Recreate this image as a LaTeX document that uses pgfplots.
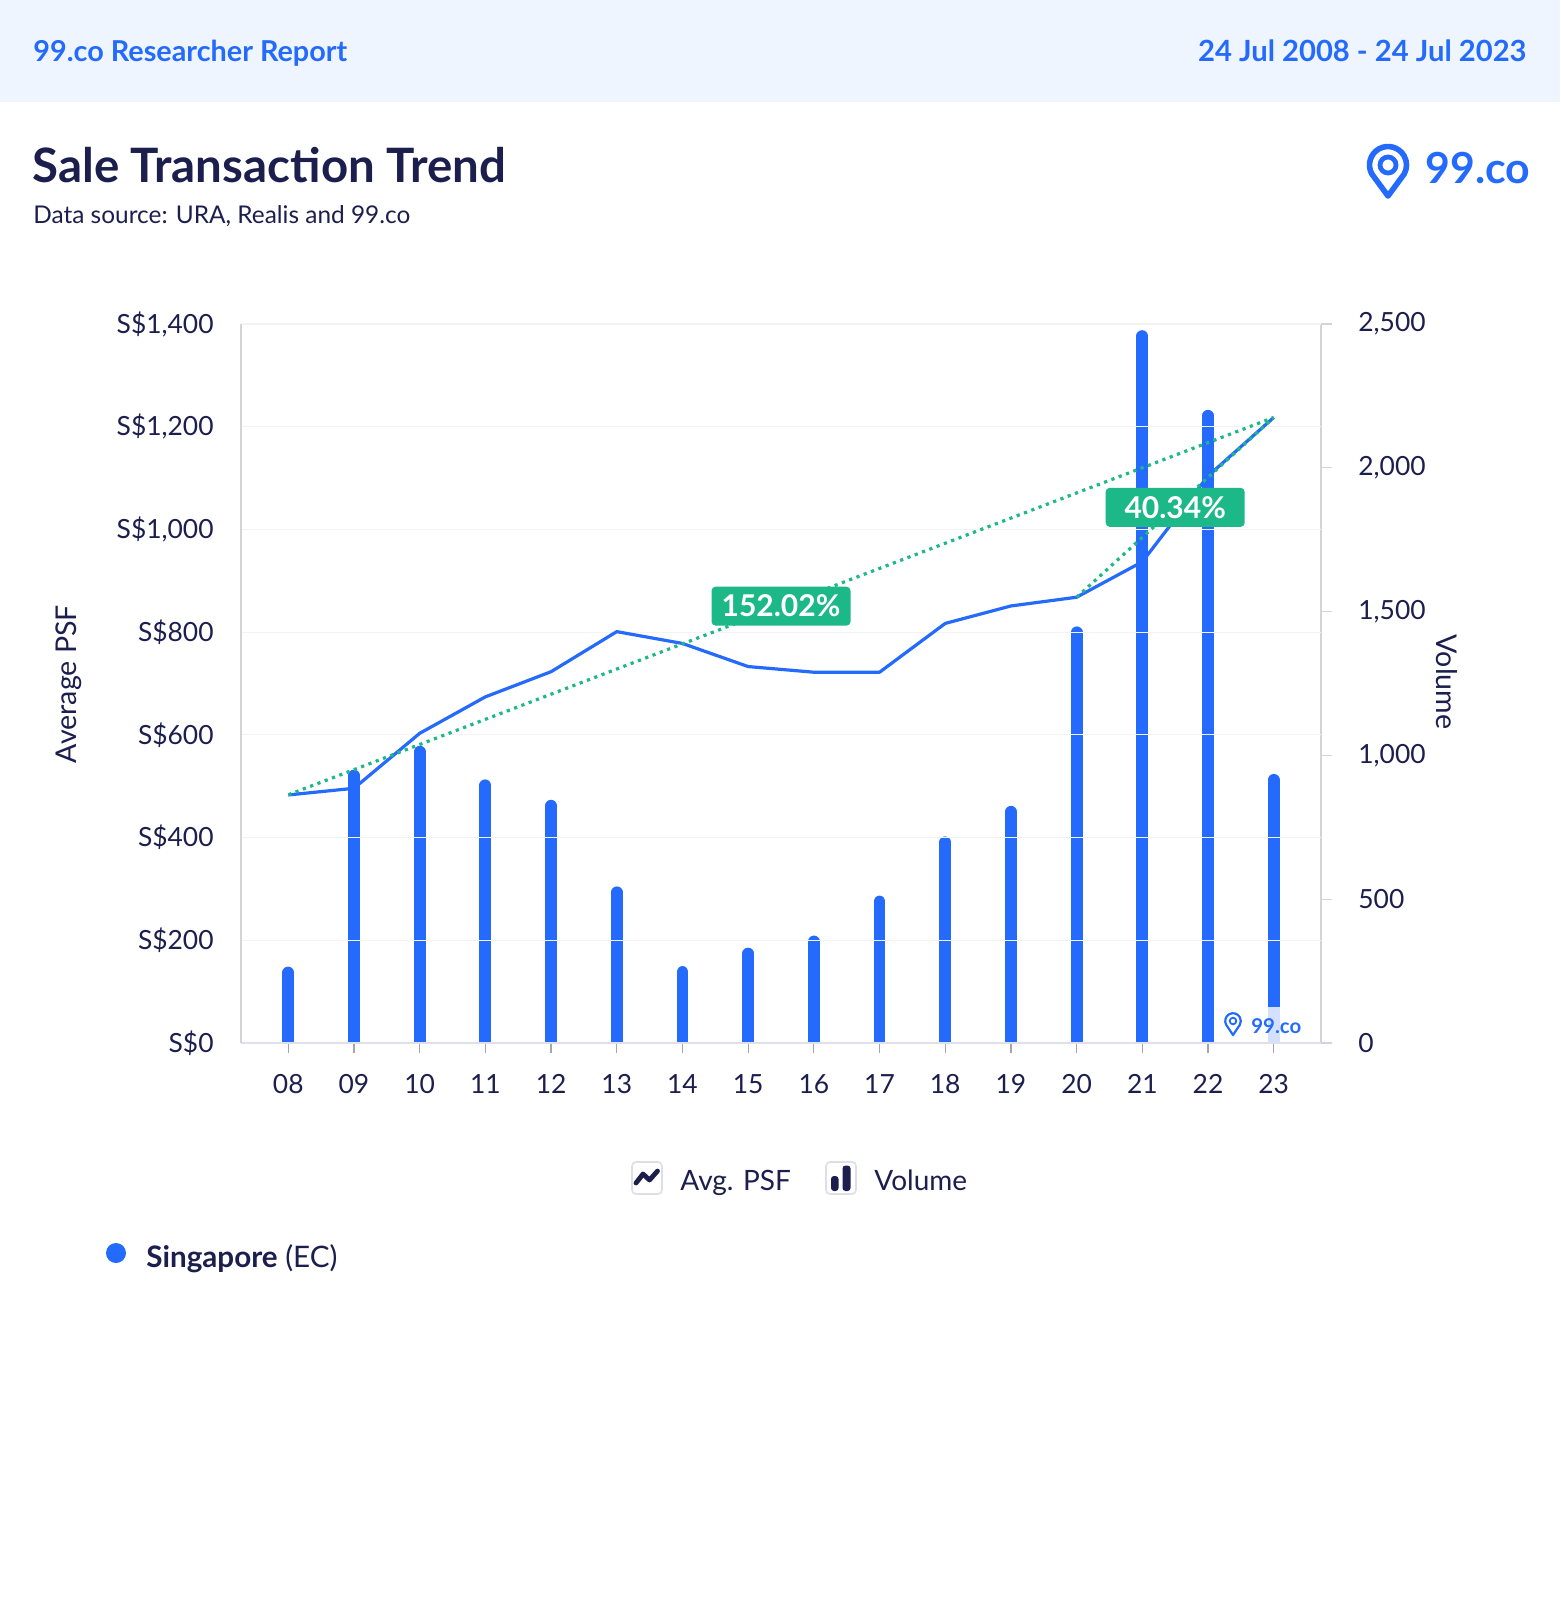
\documentclass[border=0pt]{standalone}
\usepackage{pgfplots}
\pgfplotsset{compat=1.18}
\usepackage{fontspec}
\setmainfont{Lato}
\definecolor{hdrbg}{HTML}{EEF5FF}
\definecolor{brand}{HTML}{246BFD}
\definecolor{navy}{HTML}{1C1F4E}
\definecolor{tgreen}{HTML}{1DB887}
\definecolor{gridc}{HTML}{F3F3F5}
\definecolor{axisc}{HTML}{D4D4D8}
\definecolor{xaxisc}{HTML}{E0E0EA}
\definecolor{iconbox}{HTML}{DEDEE6}
\newcommand{\tickfont}{\fontsize{13.2}{15}\selectfont}
\begin{document}
\begin{tikzpicture}[x=0.5pt,y=-0.5pt]
% background
\fill[white] (0,0) rectangle (1560,1600);
\fill[hdrbg] (0,0) rectangle (1560,102);
\node[anchor=base west, inner sep=0, text=brand, font=\fontsize{14.4}{16}\selectfont\bfseries] at (33,62) {99.co Researcher Report};
\node[anchor=base east, inner sep=0, text=brand, font=\fontsize{14.6}{16}\selectfont\bfseries] at (1527,62) {24 Jul 2008 - 24 Jul 2023};
\node[anchor=base west, inner sep=0, text=navy, font=\fontsize{23.7}{26}\selectfont\bfseries] at (32,183) {Sale Transaction Trend};
\node[anchor=base west, inner sep=0, text=navy, font=\fontsize{12.2}{14}\selectfont] at (33,223) {Data source: URA, Realis and 99.co};
% top-right logo
\begin{scope}[shift={(1388,165)}, x=0.5pt, y=0.5pt]
  \draw[brand, line width=2.8pt, line join=round] (0,-31) -- (209.1:18.5) arc[start angle=209.1, end angle=-29.1, radius=18.5] -- cycle;
  \draw[brand, line width=2.4pt] (0,0) circle (8);
\end{scope}
\node[anchor=base west, inner sep=0, text=brand, font=\fontsize{21.4}{24}\selectfont\bfseries] at (1425,184) {99.co};

% ---------- Volume axis (bars, right) ----------
\begin{axis}[
  at={(120.5pt,-521.5pt)}, anchor=south west,
  scale only axis, width=540pt, height=359.5pt,
  xmin=-0.72, xmax=15.72, ymin=0, ymax=2500,
  axis x line=none,
  axis y line*=right,
  y axis line style={axisc, line width=0.8pt, -},
  ytick={0,500,1000,1500,2000,2500},
  yticklabels={0,500,{1,000},{1,500},{2,000},{2,500}},
  tick align=outside, major tick length=5.5pt,
  ytick style={axisc, line width=0.6pt},
  yticklabel style={font=\tickfont, text=navy, anchor=west, inner sep=0pt},
  yticklabel shift=13pt,
]
\addplot[ycomb, brand, line width=5.9pt, line cap=round, y filter/.expression={y-20}] coordinates {
(0,265) (1,950) (2,1033) (3,916) (4,845) (5,544) (6,267) (7,331)
(8,373) (9,512) (10,718) (11,824) (12,1448) (13,2478) (14,2201) (15,935)
};
\end{axis}

% ---------- Avg PSF axis (line, left) ----------
\begin{axis}[
  at={(120.5pt,-521.5pt)}, anchor=south west,
  scale only axis, width=540pt, height=359.5pt,
  xmin=-0.72, xmax=15.72, ymin=0, ymax=1400,
  axis y line*=left, axis x line*=bottom,
  x axis line style={xaxisc, line width=1pt, -},
  y axis line style={axisc, line width=0.8pt, -},
  xtick={0,...,15},
  xticklabels={08,09,10,11,12,13,14,15,16,17,18,19,20,21,22,23},
  ytick={0,200,...,1400},
  yticklabels={S\$0,S\$200,S\$400,S\$600,S\$800,{S\$1,000},{S\$1,200},{S\$1,400}},
  ymajorgrids, grid style={gridc, line width=0.6pt},
  tick align=outside,
  ytick style={draw=none}, major tick length=5pt,
  xtick style={draw=gray!70, line width=0.6pt},
  xticklabel style={font=\tickfont, text=navy, inner sep=0pt},
  yticklabel style={font=\tickfont, text=navy, anchor=east, inner sep=0pt},
  yticklabel shift=8.5pt, xticklabel shift=10.5pt,
]
\addplot[brand, line width=1.6pt, line join=round] coordinates {
(0,483) (1,496) (2,603) (3,674) (4,723) (5,801) (6,778) (7,733)
(8,722) (9,722) (10,817) (11,851) (12,868) (13,937) (14,1104) (15,1218)
};
\addplot[tgreen, line width=1.6pt, dash pattern=on 1.6pt off 2.3pt] coordinates {(0,483.3) (15,1218)};
\addplot[tgreen, line width=1.6pt, dash pattern=on 1.6pt off 2.3pt] coordinates {(12,867.9) (15,1218)};
\node[fill=tgreen, rounded corners=2pt, minimum width=69.5pt, minimum height=19.5pt, inner sep=0, text=white, font=\fontsize{15}{16}\selectfont\bfseries] at (axis cs:7.5,850.6) {152.02\%};
\node[fill=tgreen, rounded corners=2pt, minimum width=69.5pt, minimum height=19.5pt, inner sep=0, text=white, font=\fontsize{15}{16}\selectfont\bfseries] at (axis cs:13.5,1043) {40.34\%};
\end{axis}

% watermark
\fill[white, opacity=0.8] (1220,1007) rectangle (1312,1042);
\begin{scope}[shift={(1233,1021)}, x=0.5pt, y=0.5pt]
  \draw[brand, line width=1.1pt, line join=round] (0,-14) -- (209.1:7.8) arc[start angle=209.1, end angle=-29.1, radius=7.8] -- cycle;
  \draw[brand, line width=0.9pt] (0,0) circle (3.3);
\end{scope}
\node[anchor=base west, inner sep=0, text=brand, font=\fontsize{10.2}{11}\selectfont\bfseries] at (1251,1033) {99.co};

% axis titles
\node[rotate=90, text=navy, font=\fontsize{14.3}{16}\selectfont] at (69,684) {Average PSF};
\node[rotate=-90, text=navy, font=\fontsize{14.3}{16}\selectfont] at (1447,682) {Volume};

% legend
\draw[iconbox, line width=0.8pt, rounded corners=2pt] (632,1162) rectangle (662,1194);
\draw[navy, line width=2.4pt, line cap=round, line join=round] (636,1183) -- (643,1174) -- (649.5,1180) -- (657.5,1171);
\node[anchor=base west, inner sep=0, text=navy, font=\fontsize{14}{16}\selectfont] at (680,1190) {Avg. PSF};
\draw[iconbox, line width=0.8pt, rounded corners=2pt] (826,1162) rectangle (856,1194);
\fill[navy, rounded corners=1.5pt] (831,1191) rectangle (838.5,1176);
\fill[navy, rounded corners=1.5pt] (842.5,1191) rectangle (850.5,1165.5);
\node[anchor=base west, inner sep=0, text=navy, font=\fontsize{14}{16}\selectfont] at (874,1190) {Volume};

\fill[brand] (116,1253) circle (10);
\node[anchor=base west, inner sep=0, text=navy, font=\fontsize{14.8}{16}\selectfont] at (146,1267) {\textbf{Singapore} (EC)};
\end{tikzpicture}
\end{document}
